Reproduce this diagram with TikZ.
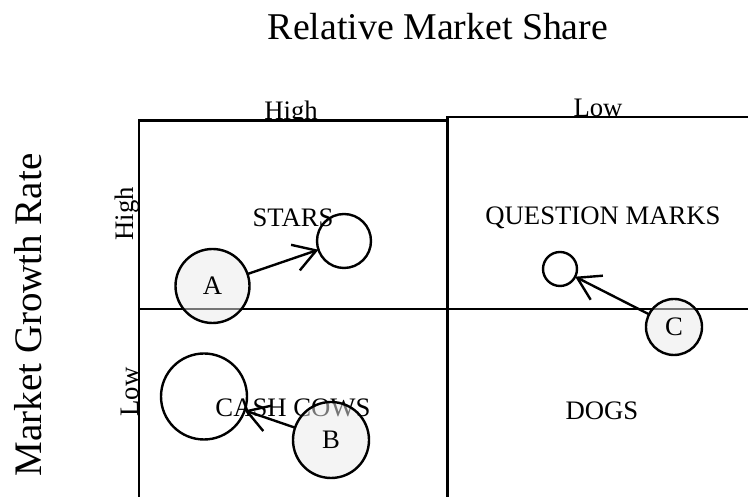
\documentclass[tikz,border=0pt]{standalone}
\usepackage{fontspec}
\setmainfont{Liberation Serif}
\usetikzlibrary{arrows.meta}
\begin{document}
\begin{tikzpicture}[x=1pt,y=1pt,
  lbl/.style={font=\fontsize{26.7}{32}\selectfont, inner sep=0pt, anchor=base},
  bigtxt/.style={font=\fontsize{37.8}{45}\selectfont, inner sep=0pt, anchor=base},
  grid/.style={line width=2.8pt},
  ring/.style={circle, draw, line width=2.4pt, inner sep=0pt, outer sep=0pt},
  firm/.style={ring, fill=black!8, fill opacity=0.5, text opacity=1, draw opacity=1,
    font=\fontsize{26.7}{32}\selectfont},
  arr/.style={line width=2.4pt, -{Straight Barb[length=22pt, width=27pt, line width=2.4pt]}}
]
\useasboundingbox (0,0) rectangle (748,497);
% axis titles
\node[bigtxt] (title) at (438,457) {Relative Market Share};
\node[font=\fontsize{39}{47}\selectfont, inner sep=0pt, anchor=base, rotate=90] (ytitle) at (42,182) {Market Growth Rate};
% column labels (partly covered by the cells)
\node[lbl] (colhigh) at (291,377) {High};
\node[lbl] (collow) at (598,380) {Low};
% cells
\draw[grid, fill=white] (139,-10) rectangle (447.5,376.5);
\draw[grid, fill=white] (447.5,-10) rectangle (760,380);
\draw[grid] (139,188) -- (760,188);
% row labels
\node[lbl, rotate=90] (rowhigh) at (133,283) {High};
\node[lbl, rotate=90] (rowlow) at (138,105) {Low};
% quadrant names
\node[lbl] (stars) at (293,270) {STARS};
\node[lbl] (qm) at (603,272) {QUESTION MARKS};
\node[lbl] (cows) at (293,80) {CASH COWS};
\node[lbl] (dogs) at (602,77) {DOGS};
% target circles
\node[ring, minimum size=54pt] (s1) at (344,256) {};
\node[ring, minimum size=34pt] (q1) at (560,228) {};
\node[ring, minimum size=86pt] (c1) at (204,100.5) {};
% firm circles
\node[firm, minimum size=74pt] (A) at (212.5,211) {A};
\node[firm, minimum size=56pt] (C) at (674,170) {C};
\node[firm, minimum size=76pt] (B) at (331,57) {B};
% movements
\draw[arr] (A) -- (s1);
\draw[arr] (C) -- (q1);
\draw[arr] (B) -- (c1);
\end{tikzpicture}
\end{document}
